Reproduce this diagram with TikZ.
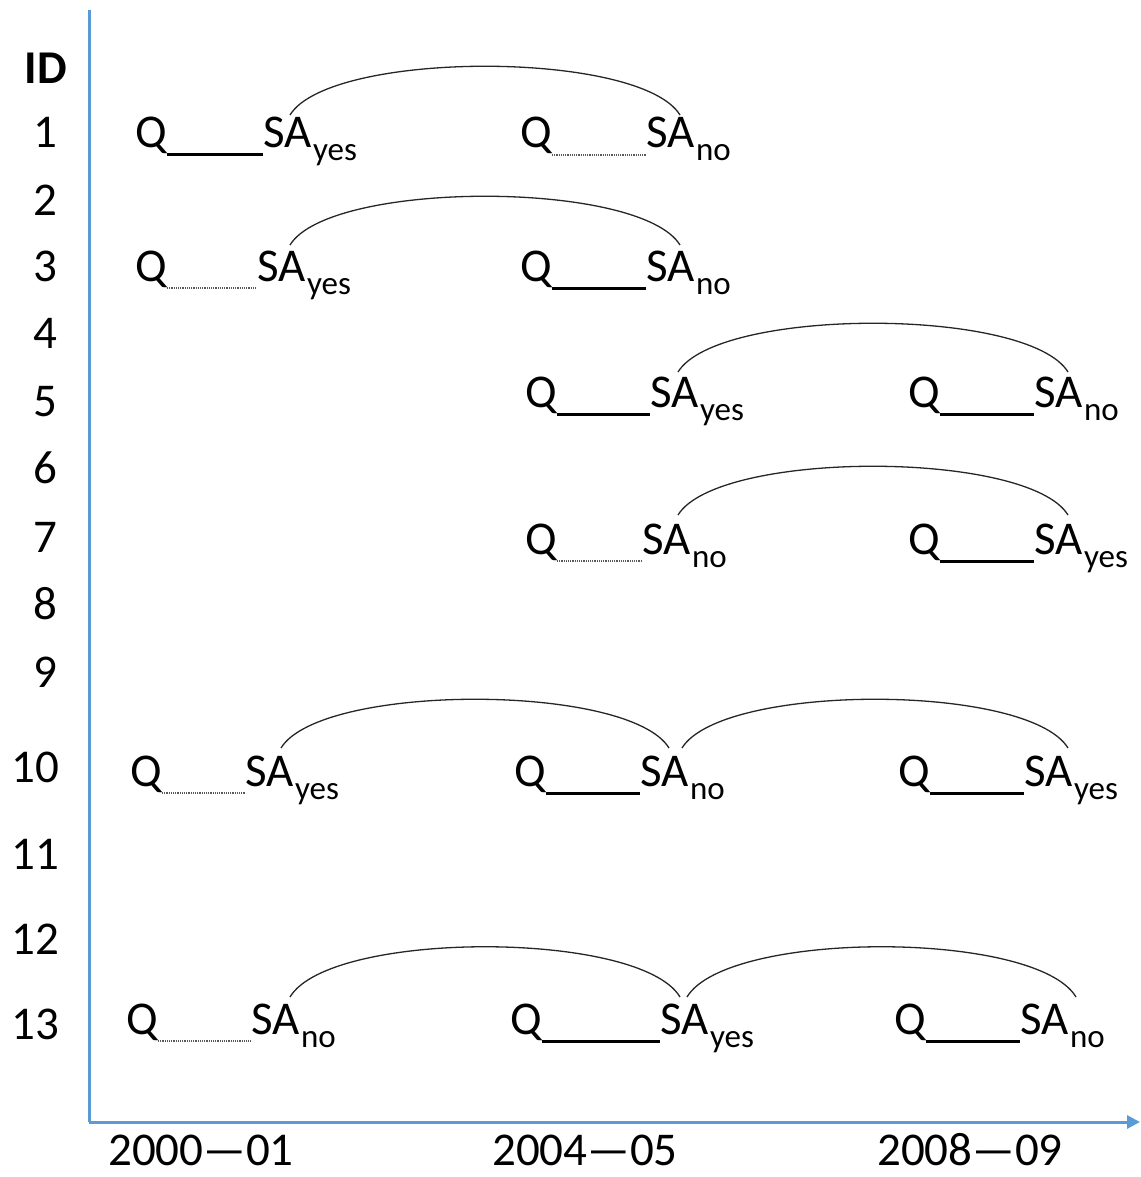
\documentclass[tikz,border=0pt]{standalone}
\usepackage{fontspec}
\setmainfont{Carlito}
\usetikzlibrary{arrows.meta,calc}
\definecolor{axisblue}{RGB}{91,155,213}
\newcommand{\mysub}[1]{\kern1.5pt\raisebox{-13pt}{\fontsize{33}{33}\selectfont #1}}
\tikzset{
  bigtext/.style={font=\fontsize{47}{52}\selectfont, inner sep=0pt},
  rowlbl/.style={bigtext, anchor=base},
  yearlbl/.style={bigtext, anchor=base},
  qnode/.style={bigtext, anchor=base west},
  sanode/.style={bigtext, anchor=base west},
  solidln/.style={line width=3pt, black},
  dotln/.style={line width=1.2pt, densely dotted, black!65},
  arcln/.style={line width=1.3pt, black!85},
  axisln/.style={line width=3pt, axisblue},
}
\begin{document}
\begin{tikzpicture}[x=1pt,y=-1pt]
\useasboundingbox (0,0) rectangle (1140,1177);
% axes
\coordinate (top) at (89,10);
\coordinate (origin) at (89,1122);
\coordinate (xend) at (1140,1122);
\draw[axisln] (top) -- (origin);
\draw[axisln,-{Triangle[length=13pt,width=13pt]}] (origin) -- (xend);
% row labels
\node[rowlbl,font=\fontsize{47}{52}\selectfont\bfseries] (lid) at (46,84) {ID};
\node[rowlbl] (l1) at (45,148) {1};
\node[rowlbl] (l2) at (45,215) {2};
\node[rowlbl] (l3) at (45,281) {3};
\node[rowlbl] (l4) at (45,348) {4};
\node[rowlbl] (l5) at (45,416) {5};
\node[rowlbl] (l6) at (45,483) {6};
\node[rowlbl] (l7) at (45,552) {7};
\node[rowlbl] (l8) at (45,619) {8};
\node[rowlbl] (l9) at (45,687) {9};
\node[rowlbl] (l10) at (35,782) {10};
\node[rowlbl] (l11) at (35,869) {11};
\node[rowlbl] (l12) at (35,954) {12};
\node[rowlbl] (l13) at (35,1039) {13};
% year labels
\node[yearlbl] (y1) at (201,1165) {2000—01};
\node[yearlbl] (y2) at (585,1165) {2004—05};
\node[yearlbl] (y3) at (970,1165) {2008—09};
% row 1
\node[qnode] (q1a) at (135,148) {Q};
\node[sanode] (s1a) at (263,148) {SA\mysub{yes}};
\node[qnode] (q1b) at (520,148) {Q};
\node[sanode] (s1b) at (646,148) {SA\mysub{no}};
\draw[solidln] ([yshift=-7pt]q1a.base east) -- ([yshift=-7pt]s1a.base west);
\draw[dotln] ([yshift=-7pt]q1b.base east) -- ([yshift=-7pt]s1b.base west);
\draw[arcln] ($(s1a.base west)+(27,-33)$) .. controls +(40,-65) and +(-40,-65) .. ($(s1b.base west)+(34,-33)$);
% row 3
\node[qnode] (q3a) at (135,281) {Q};
\node[sanode] (s3a) at (257,281) {SA\mysub{yes}};
\node[qnode] (q3b) at (520,281) {Q};
\node[sanode] (s3b) at (646,281) {SA\mysub{no}};
\draw[dotln] ([yshift=-7pt]q3a.base east) -- ([yshift=-7pt]s3a.base west);
\draw[solidln] ([yshift=-7pt]q3b.base east) -- ([yshift=-7pt]s3b.base west);
\draw[arcln] ($(s3a.base west)+(33,-36)$) .. controls +(40,-65) and +(-40,-65) .. ($(s3b.base west)+(34,-36)$);
% row 5
\node[qnode] (q5a) at (525,407) {Q};
\node[sanode] (s5a) at (650,407) {SA\mysub{yes}};
\node[qnode] (q5b) at (908,407) {Q};
\node[sanode] (s5b) at (1034,407) {SA\mysub{no}};
\draw[solidln] ([yshift=-7pt]q5a.base east) -- ([yshift=-7pt]s5a.base west);
\draw[solidln] ([yshift=-7pt]q5b.base east) -- ([yshift=-7pt]s5b.base west);
\draw[arcln] ($(s5a.base west)+(28,-35)$) .. controls +(40,-65) and +(-40,-65) .. ($(s5b.base west)+(34,-35)$);
% row 7
\node[qnode] (q7a) at (525,554) {Q};
\node[sanode] (s7a) at (642,554) {SA\mysub{no}};
\node[qnode] (q7b) at (908,554) {Q};
\node[sanode] (s7b) at (1034,554) {SA\mysub{yes}};
\draw[dotln] ([yshift=-7pt]q7a.base east) -- ([yshift=-7pt]s7a.base west);
\draw[solidln] ([yshift=-7pt]q7b.base east) -- ([yshift=-7pt]s7b.base west);
\draw[arcln] ($(s7a.base west)+(36,-39)$) .. controls +(40,-65) and +(-40,-65) .. ($(s7b.base west)+(34,-39)$);
% row 10
\node[qnode] (q10a) at (130,786) {Q};
\node[sanode] (s10a) at (245,786) {SA\mysub{yes}};
\node[qnode] (q10b) at (514,786) {Q};
\node[sanode] (s10b) at (640,786) {SA\mysub{no}};
\node[qnode] (q10c) at (898,786) {Q};
\node[sanode] (s10c) at (1024,786) {SA\mysub{yes}};
\draw[dotln] ([yshift=-7pt]q10a.base east) -- ([yshift=-7pt]s10a.base west);
\draw[solidln] ([yshift=-7pt]q10b.base east) -- ([yshift=-7pt]s10b.base west);
\draw[solidln] ([yshift=-7pt]q10c.base east) -- ([yshift=-7pt]s10c.base west);
\draw[arcln] ($(s10a.base west)+(36,-38)$) .. controls +(40,-65) and +(-40,-65) .. ($(s10b.base west)+(29,-38)$);
\draw[arcln] ($(s10b.base west)+(42,-38)$) .. controls +(40,-65) and +(-40,-65) .. ($(s10c.base west)+(44,-38)$);
% row 13
\node[qnode] (q13a) at (126,1034) {Q};
\node[sanode] (s13a) at (251,1034) {SA\mysub{no}};
\node[qnode] (q13b) at (510,1034) {Q};
\node[sanode] (s13b) at (660,1034) {SA\mysub{yes}};
\node[qnode] (q13c) at (894,1034) {Q};
\node[sanode] (s13c) at (1020,1034) {SA\mysub{no}};
\draw[dotln] ([yshift=-7pt]q13a.base east) -- ([yshift=-7pt]s13a.base west);
\draw[solidln] ([yshift=-7pt]q13b.base east) -- ([yshift=-7pt]s13b.base west);
\draw[solidln] ([yshift=-7pt]q13c.base east) -- ([yshift=-7pt]s13c.base west);
\draw[arcln] ($(s13a.base west)+(39,-37)$) .. controls +(40,-67) and +(-40,-67) .. ($(s13b.base west)+(20,-37)$);
\draw[arcln] ($(s13b.base west)+(27,-37)$) .. controls +(40,-67) and +(-40,-67) .. ($(s13c.base west)+(56,-37)$);
\end{tikzpicture}
\end{document}
